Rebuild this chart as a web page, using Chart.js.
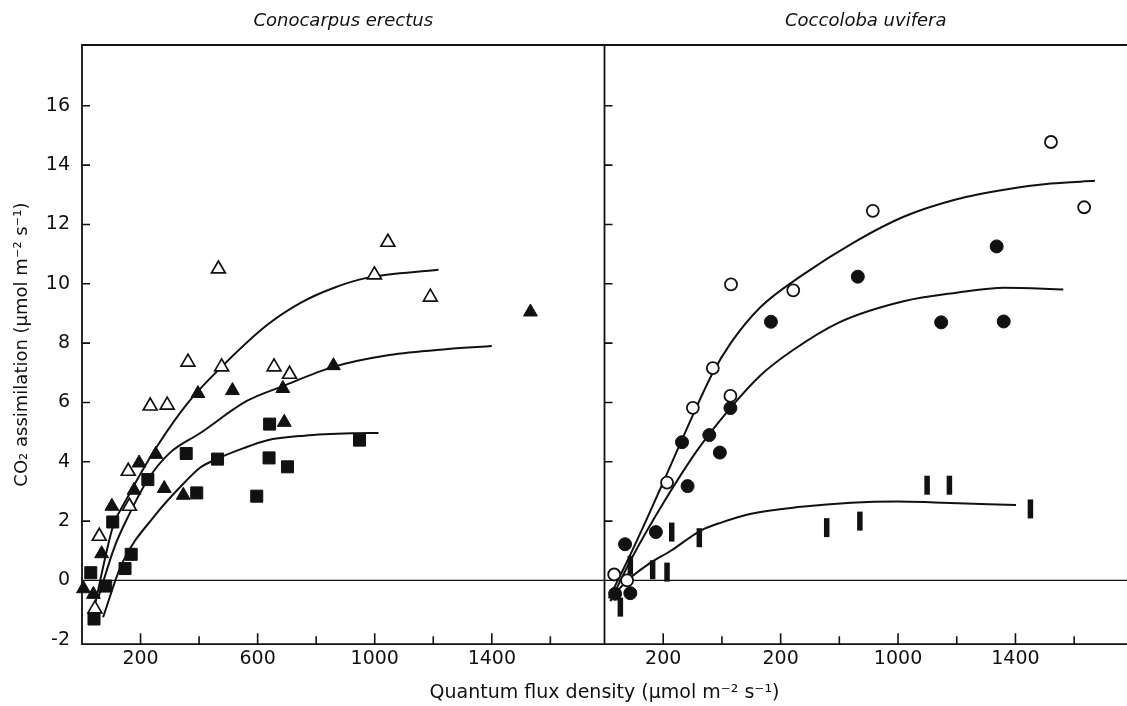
<!DOCTYPE html>
<html>
<head>
<meta charset="utf-8">
<title>CO2 assimilation vs quantum flux density</title>
<script src="https://cdn.jsdelivr.net/npm/chart.js@4.4.1/dist/chart.umd.min.js"></script>
<style>
  html, body { margin: 0; padding: 0; background: #fff; overflow: hidden; }
  #lightChart { display: block; }
</style>
</head>
<body>
<canvas id="lightChart" width="1127" height="706"></canvas>
<script>
// tick positions and labels (the right panel really prints "200" twice)
const xTicks = [200, 400, 600, 800, 1000, 1200, 1400, 1600];
const leftTickLabels = ['200', '', '600', '', '1000', '', '1400', ''];
const rightTickLabels = ['200', '', '200', '', '1000', '', '1400', ''];
const yTicks = [-2, 0, 2, 4, 6, 8, 10, 12, 14, 16];

// Conocarpus erectus  [flux, assimilation]
const conoOpenTri = [[44, -0.96], [59, 1.49], [158, 3.68], [162, 2.5], [233, 5.88], [291, 5.91], [362, 7.36], [466, 10.5], [477, 7.2], [656, 7.2], [709, 6.95], [999, 10.3], [1045, 11.4], [1190, 9.55]];
const conoFillTri = [[5, -0.28], [39, -0.47], [67, 0.9], [102, 2.5], [178, 3.04], [195, 3.96], [252, 4.25], [281, 3.1], [346, 2.87], [396, 6.3], [514, 6.4], [686, 6.47], [691, 5.33], [859, 7.24], [1532, 9.05]];
const conoSquare = [[30, 0.26], [41, -1.3], [81, -0.19], [105, 1.97], [147, 0.4], [168, 0.88], [225, 3.4], [356, 4.28], [392, 2.95], [463, 4.09], [597, 2.84], [641, 5.27], [639, 4.13], [702, 3.83], [948, 4.73]];
const conoOpenFit = [[45, -0.8], [80, 0.8], [107, 1.86], [150, 2.7], [200, 3.6], [255, 4.5], [363, 6.0], [477, 7.2], [631, 8.6], [745, 9.35], [859, 9.86], [973, 10.2], [1218, 10.47]];
const conoFillFit = [[55, -0.6], [110, 1.1], [160, 2.2], [225, 3.4], [300, 4.3], [403, 4.96], [563, 6.05], [686, 6.55], [859, 7.2], [1050, 7.6], [1250, 7.8], [1400, 7.9]];
const conoSquareFit = [[72, -1.24], [136, 0.56], [250, 2.2], [358, 3.38], [403, 3.8], [462, 4.1], [550, 4.45], [631, 4.72], [760, 4.88], [927, 4.96], [1013, 4.97]];

// Coccoloba uvifera
const coccoOpenCirc = [[33, 0.2], [77, 0], [213, 3.3], [301, 5.82], [369, 7.16], [429, 6.22], [431, 9.98], [643, 9.78], [914, 12.46], [1521, 14.78], [1634, 12.58]];
const coccoFillCirc = [[36, -0.45], [70, 1.22], [88, -0.43], [175, 1.63], [264, 4.66], [283, 3.18], [357, 4.9], [393, 4.31], [429, 5.81], [567, 8.72], [863, 10.24], [1147, 8.7], [1336, 11.26], [1360, 8.73]];
const coccoBar = [[54, -0.9], [88, 0.51], [164, 0.36], [213, 0.28], [229, 1.63], [323, 1.44], [757, 1.78], [870, 2.0], [1099, 3.21], [1175, 3.21], [1451, 2.41]];
const coccoOpenFit = [[15, -0.6], [79, 0.68], [150, 2.2], [213, 3.6], [300, 5.55], [369, 7.0], [430, 8.0], [530, 9.2], [675, 10.3], [850, 11.4], [1019, 12.26], [1200, 12.85], [1362, 13.17], [1520, 13.38], [1671, 13.47]];
const coccoFillFit = [[20, -0.7], [90, 0.7], [200, 2.6], [317, 4.4], [428, 5.8], [530, 6.9], [640, 7.75], [800, 8.7], [1019, 9.41], [1200, 9.7], [1362, 9.87], [1563, 9.81]];
const coccoBarFit = [[30, -0.5], [78, 0], [150, 0.55], [226, 1.0], [328, 1.68], [397, 1.95], [500, 2.25], [670, 2.48], [840, 2.62], [1000, 2.66], [1124, 2.63], [1402, 2.54]];

const ink = '#111';
Chart.defaults.color = ink;
Chart.defaults.font.family = '"DejaVu Sans", sans-serif';

const toPoints = arr => arr.map(([x, y]) => ({ x, y }));

const triOpen = { pointStyle: 'triangle', pointRadius: 8, pointBackgroundColor: '#fff', pointBorderWidth: 1.7 };
const triFill = { pointStyle: 'triangle', pointRadius: 8, pointBackgroundColor: ink, pointBorderWidth: 1 };
const square = { pointStyle: 'rect', pointRadius: 8.5, pointBackgroundColor: ink, pointBorderWidth: 1 };
const circOpen = { pointStyle: 'circle', pointRadius: 6, pointBackgroundColor: '#fff', pointBorderWidth: 1.8 };
const circFill = { pointStyle: 'circle', pointRadius: 6.5, pointBackgroundColor: ink, pointBorderWidth: 1 };
const bar = { pointStyle: 'line', pointRotation: 90, pointRadius: 9.5, pointBorderWidth: 5.5 };

function markers(data, xAxisID, style) {
  return Object.assign({
    data: toPoints(data), xAxisID, yAxisID: 'y', showLine: false,
    pointBorderColor: ink, clip: false, order: 0
  }, style);
}

function fit(data, xAxisID) {
  return {
    data: toPoints(data), xAxisID, yAxisID: 'y', showLine: true,
    pointRadius: 0, borderColor: ink, borderWidth: 2,
    cubicInterpolationMode: 'monotone', order: 1
  };
}

const datasets = [
  markers(conoOpenTri, 'x1', triOpen),
  markers(conoFillTri, 'x1', triFill),
  markers(conoSquare, 'x1', square),
  markers(coccoOpenCirc, 'x2', circOpen),
  markers(coccoFillCirc, 'x2', circFill),
  markers(coccoBar, 'x2', bar),
  fit(conoOpenFit, 'x1'),
  fit(conoFillFit, 'x1'),
  fit(conoSquareFit, 'x1'),
  fit(coccoOpenFit, 'x2'),
  fit(coccoFillFit, 'x2'),
  fit(coccoBarFit, 'x2')
];

// keep the frame flush with the canvas: no extra room for edge labels
function noPadding(s) {
  s.paddingLeft = 0;
  s.paddingRight = 0;
  s.paddingTop = 0;
  s.paddingBottom = 0;
}

function panelX(labels, max) {
  return {
    type: 'linear', position: 'bottom', stack: 'panels', stackWeight: 1, min: 0, max,
    afterBuildTicks: s => { s.ticks = xTicks.map(v => ({ value: v })); },
    afterFit: s => { s.height = 34; noPadding(s); },
    grid: { display: false, drawTicks: false },
    border: { display: false },
    ticks: { autoSkip: false, maxRotation: 0, padding: 3, font: { size: 19 }, callback: (v, i) => labels[i] }
  };
}

function panelTitle(text) {
  return {
    type: 'linear', position: 'top', stack: 'heads', stackWeight: 1, min: 0, max: 1,
    afterFit: s => { s.height = 45; noPadding(s); },
    grid: { display: false, drawTicks: false },
    border: { display: false },
    ticks: { display: false },
    title: { display: true, text, font: { size: 18, style: 'italic' }, padding: { top: 11, bottom: 0 } }
  };
}

// box, panel divider, zero line and the inward tick marks
const panelFrame = {
  id: 'panelFrame',
  beforeDatasetsDraw(chart) {
    const { ctx, chartArea: area, scales } = chart;
    const { x1, x2, y } = scales;
    ctx.save();
    ctx.strokeStyle = ink;
    ctx.lineWidth = 1.8;
    ctx.beginPath();
    ctx.moveTo(area.right, area.top);
    ctx.lineTo(area.left, area.top);
    ctx.lineTo(area.left, area.bottom);
    ctx.lineTo(area.right, area.bottom);
    ctx.moveTo(x1.right, area.top);
    ctx.lineTo(x1.right, area.bottom);
    ctx.stroke();

    const zero = y.getPixelForValue(0);
    ctx.lineWidth = 1.4;
    ctx.beginPath();
    ctx.moveTo(area.left, zero);
    ctx.lineTo(area.right, zero);
    ctx.stroke();

    ctx.lineWidth = 1.6;
    ctx.beginPath();
    y.ticks.forEach(t => {
      if (t.value <= 0) return;
      const py = y.getPixelForValue(t.value);
      [x1.left, x2.left].forEach(px => { ctx.moveTo(px, py); ctx.lineTo(px + 8, py); });
    });
    [x1, x2].forEach(s => s.ticks.forEach((t, i) => {
      const px = s.getPixelForValue(t.value);
      const len = i % 2 === 0 ? 11 : 8;
      ctx.moveTo(px, area.bottom);
      ctx.lineTo(px, area.bottom - len);
    }));
    ctx.stroke();
    ctx.restore();
  }
};

new Chart(document.getElementById('lightChart'), {
  type: 'scatter',
  data: { datasets },
  options: {
    responsive: false,
    devicePixelRatio: 1,
    animation: false,
    events: [],
    layout: { padding: 0, autoPadding: false },
    plugins: {
      legend: { display: false },
      tooltip: { enabled: false },
      title: {
        display: true, position: 'bottom', fullSize: false,
        text: 'Quantum flux density (μmol m⁻² s⁻¹)',
        font: { size: 19, weight: 'normal' },
        padding: { top: 3, bottom: 2 }
      }
    },
    scales: {
      x1: panelX(leftTickLabels, 1785),
      x2: panelX(rightTickLabels, 1780),
      // top boxes are laid out in reverse order, so the right-hand title comes first
      tRight: panelTitle('Coccoloba uvifera'),
      tLeft: panelTitle('Conocarpus erectus'),
      y: {
        type: 'linear', position: 'left', min: -2.15, max: 18.05,
        afterBuildTicks: s => { s.ticks = yTicks.map(v => ({ value: v })); },
        afterFit: s => { s.width = 82; noPadding(s); },
        grid: { display: false, drawTicks: false },
        border: { display: false },
        ticks: { autoSkip: false, padding: 12, font: { size: 19 }, callback: v => String(v) },
        title: {
          display: true, text: 'CO₂ assimilation (μmol m⁻² s⁻¹)',
          font: { size: 18 }, padding: { top: 12, bottom: 0 }
        }
      }
    }
  },
  plugins: [panelFrame]
});
</script>
</body>
</html>
